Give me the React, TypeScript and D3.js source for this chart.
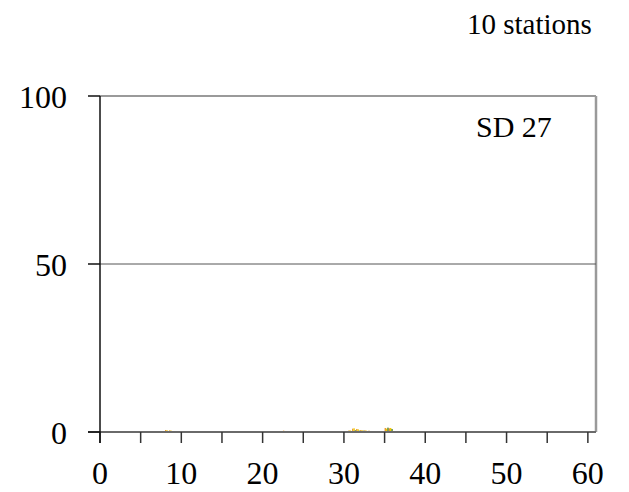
import React from "react";
import * as d3 from "d3";

// length classes (cm) and percentage per series
const lengths = [7.5, 8, 8.5, 9, 22, 22.5, 29.5, 30.5, 31, 31.5, 32, 32.5, 33, 33.5, 35, 35.5, 36, 37.5, 41.5];
const orangeVals = [0.2, 0.6, 0.5, 0.1, 0.3, 0.4, 0.2, 0.4, 1.0, 0.9, 0.6, 0.5, 0.4, 0.3, 1.2, 1.1, 0.3, 0.2, 0.1];
const greenVals = [0.1, 0.3, 0.2, 0, 0.1, 0.1, 0.1, 0.3, 0.5, 0.4, 0.4, 0.3, 0.3, 0.2, 1.3, 0.9, 0.2, 0.1, 0.1];
const yellowVals = [0.1, 0.5, 0.4, 0.1, 0.2, 0.3, 0.1, 0.5, 1.1, 0.8, 0.5, 0.4, 0.3, 0.2, 1.0, 1.2, 0.2, 0.1, 0];

const xTicks = d3.range(0, 61, 5);
const xLabels = [0, 10, 20, 30, 40, 50, 60];
const yTicks = [0, 50, 100];

const seriesList = [
  { name: "orange", values: orangeVals, color: "#E8982A" },
  { name: "yellow", values: yellowVals, color: "#F2C800" },
  { name: "green", values: greenVals, color: "#4F7F1E" },
];

const width = 629;
const height = 492;
const margin = { top: 96, right: 33, bottom: 60, left: 100 };
const font = "Liberation Serif, Times New Roman, serif";

const App: React.FC = () => {
  const x = d3
    .scaleLinear()
    .domain([0, 61])
    .range([margin.left, width - margin.right]);
  const y = d3
    .scaleLinear()
    .domain([0, 100])
    .range([height - margin.bottom, margin.top]);

  const classWidth = x(0.5) - x(0);
  const sub = d3
    .scaleBand<string>()
    .domain(seriesList.map((s) => s.name))
    .range([0, classWidth])
    .padding(0);

  const x0 = x(0);
  const x1 = x(61);
  const yBase = y(0);

  return (
    <svg
      width={width}
      height={height}
      style={{ position: "absolute", left: 0, top: 0, background: "#fff", fontFamily: font }}
    >
      {/* plot frame */}
      <line x1={x0} x2={x1} y1={y(100)} y2={y(100)} stroke="#9a9a9a" strokeWidth={2} />
      <line x1={x1} x2={x1} y1={y(100)} y2={yBase} stroke="#9a9a9a" strokeWidth={2.5} />
      {/* gridline at 50 */}
      <line x1={x0} x2={x1} y1={y(50)} y2={y(50)} stroke="#555" strokeWidth={1} />

      {/* bars */}
      {seriesList.map((s) =>
        s.values.map((v, i) =>
          v > 0 ? (
            <rect
              key={s.name + i}
              x={x(lengths[i]) + (sub(s.name) as number)}
              width={sub.bandwidth()}
              y={y(v)}
              height={yBase - y(v)}
              fill={s.color}
            />
          ) : null
        )
      )}

      {/* x axis */}
      <line x1={x0 - 12} x2={x1} y1={yBase} y2={yBase} stroke="#6a6a6a" strokeWidth={2} />
      {xTicks.map((t) => (
        <line key={"xt" + t} x1={x(t)} x2={x(t)} y1={yBase} y2={yBase + 11} stroke="#333" strokeWidth={1.5} />
      ))}
      {xLabels.map((t) => (
        <text key={"xl" + t} x={x(t)} y={484} textAnchor="middle" fontSize={32} fill="#000">
          {t}
        </text>
      ))}

      {/* y axis */}
      <line x1={x0} x2={x0} y1={y(100)} y2={yBase + 11} stroke="#111" strokeWidth={1.5} />
      {yTicks.map((t) => (
        <line key={"yt" + t} x1={x0 - 12} x2={x0} y1={y(t)} y2={y(t)} stroke="#111" strokeWidth={1.5} />
      ))}
      {yTicks.map((t) => (
        <text key={"yl" + t} x={67} y={y(t) + 12} textAnchor="end" fontSize={32} fill="#000">
          {t}
        </text>
      ))}

      <text x={476} y={137} fontSize={30} fill="#000">
        SD 27
      </text>
      <text x={467} y={34} fontSize={29} fill="#000">
        10 stations
      </text>
    </svg>
  );
};

export default App;
